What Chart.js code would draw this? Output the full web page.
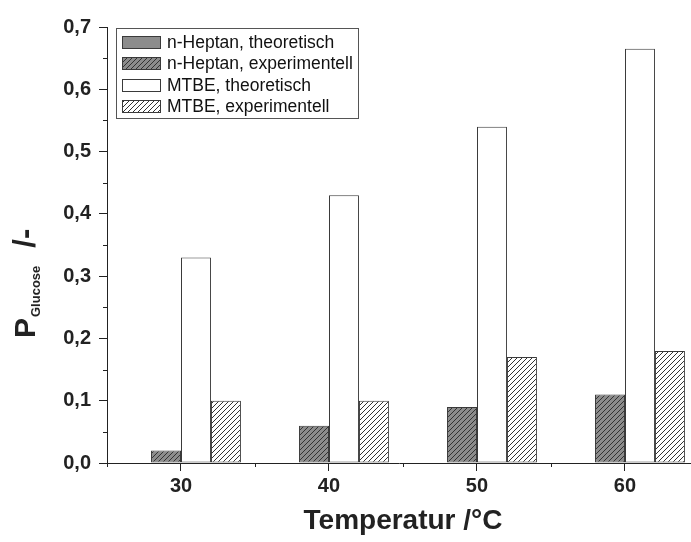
<!DOCTYPE html>
<html>
<head>
<meta charset="utf-8">
<script src="https://cdn.jsdelivr.net/npm/chart.js@4.4.1/dist/chart.umd.min.js"></script>
<style>
  html, body { margin: 0; padding: 0; background: #fff; }
  canvas { display: block; }
</style>
</head>
<body>
<canvas id="chart" width="691" height="542"></canvas>
<script>
// Distribution coefficient of glucose vs. temperature
const temperatures = [30, 40, 50, 60];
const heptanTheo = [0, 0, 0, 0];
const heptanExp = [0.02, 0.06, 0.09, 0.11];
const mtbeTheo = [0.33, 0.43, 0.54, 0.665];
const mtbeExp = [0.10, 0.10, 0.17, 0.18];
const seriesLabels = ['n-Heptan, theoretisch', 'n-Heptan, experimentell', 'MTBE, theoretisch', 'MTBE, experimentell'];
const yTickValues = [0, 0.1, 0.2, 0.3, 0.4, 0.5, 0.6, 0.7];
const xMinorTicks = [25, 35, 45, 55];
const yMinorTicks = [0.05, 0.15, 0.25, 0.35, 0.45, 0.55, 0.65];
const xTitle = 'Temperatur /°C';
const yTitleMain = 'P';
const yTitleSub = 'Glucose';
const yTitleUnit = '/-';

const FONT = '"Liberation Sans", Arial, Helvetica, sans-serif';
const INK = '#222';
const EDGE = '#3a3a3a';

const canvas = document.getElementById('chart');
const ctx0 = canvas.getContext('2d');

// diagonal "/" hatch fill
function hatch(bg) {
  const s = 5;
  const c = document.createElement('canvas');
  c.width = s; c.height = s;
  const g = c.getContext('2d');
  g.fillStyle = bg;
  g.fillRect(0, 0, s, s);
  g.strokeStyle = '#333';
  g.lineWidth = 1;
  g.beginPath();
  g.moveTo(0, s); g.lineTo(s, 0);
  g.moveTo(-1, 1); g.lineTo(1, -1);
  g.moveTo(s - 1, s + 1); g.lineTo(s + 1, s - 1);
  g.stroke();
  return ctx0.createPattern(c, 'repeat');
}

const fills = ['#8c8c8c', hatch('#8c8c8c'), '#ffffff', hatch('#ffffff')];
const values = [heptanTheo, heptanExp, mtbeTheo, mtbeExp];

const datasets = values.map((vals, k) => ({
  label: seriesLabels[k],
  data: temperatures.map((t, i) => ({ x: t, y: vals[i] })),
  backgroundColor: fills[k],
  borderColor: EDGE,
  borderWidth: 1,
  borderSkipped: false,
  categoryPercentage: 0.81,
  barPercentage: 1.0
}));

const fmt = v => v.toFixed(1).replace('.', ',');

// minor ticks, axis titles and the framed legend
const decor = {
  id: 'decor',
  afterDraw(chart) {
    const ctx = chart.ctx;
    const xs = chart.scales.x, ys = chart.scales.y, a = chart.chartArea;
    ctx.save();
    ctx.strokeStyle = INK;
    ctx.lineWidth = 1;
    ctx.beginPath();
    xMinorTicks.forEach(v => {
      const px = Math.round(xs.getPixelForValue(v)) + 0.5;
      ctx.moveTo(px, a.bottom); ctx.lineTo(px, a.bottom + 4);
    });
    yMinorTicks.forEach(v => {
      const py = Math.round(ys.getPixelForValue(v)) + 0.5;
      ctx.moveTo(a.left - 4, py); ctx.lineTo(a.left, py);
    });
    ctx.stroke();

    // x axis title
    ctx.fillStyle = INK;
    ctx.font = 'bold 28px ' + FONT;
    ctx.textAlign = 'center';
    ctx.textBaseline = 'middle';
    ctx.fillText(xTitle, 403, 521);

    // y axis title with subscript
    ctx.save();
    ctx.translate(35, 338);
    ctx.rotate(-Math.PI / 2);
    ctx.textAlign = 'left';
    ctx.textBaseline = 'alphabetic';
    ctx.font = 'bold 30px ' + FONT;
    ctx.fillText(yTitleMain, 0, 0);
    let w = ctx.measureText(yTitleMain).width + 1;
    ctx.font = 'bold 13px ' + FONT;
    ctx.fillText(yTitleSub, w, 5);
    w += ctx.measureText(yTitleSub).width + 18;
    ctx.font = 'bold 31px ' + FONT;
    ctx.fillText(yTitleUnit, w, 0);
    ctx.restore();

    // legend
    const bx = 116.5, by = 28.5, bw = 242, bh = 90;
    ctx.strokeStyle = '#555';
    ctx.lineWidth = 1;
    ctx.strokeRect(bx, by, bw, bh);
    ctx.font = '17.5px ' + FONT;
    ctx.textAlign = 'left';
    ctx.textBaseline = 'middle';
    chart.data.datasets.forEach((ds, i) => {
      const cy = 42 + i * 21.5;
      ctx.fillStyle = ds.backgroundColor;
      ctx.fillRect(122, Math.round(cy - 6.5), 39, 13);
      ctx.strokeStyle = EDGE;
      ctx.strokeRect(122.5, Math.round(cy - 6.5) + 0.5, 38, 12);
      ctx.fillStyle = '#111';
      ctx.fillText(ds.label, 167, cy + 1);
    });
    ctx.restore();
  }
};

new Chart(canvas, {
  type: 'bar',
  data: { datasets },
  options: {
    responsive: false,
    animation: false,
    devicePixelRatio: 1,
    layout: { padding: { top: 27, left: 0, right: 0, bottom: 0 } },
    plugins: { legend: { display: false }, tooltip: { enabled: false } },
    scales: {
      x: {
        type: 'linear',
        offset: false,
        min: 25,
        max: 64.46,
        afterBuildTicks: s => { s.ticks = temperatures.map(v => ({ value: v })); },
        afterFit: s => { s.height = 79; },
        grid: { display: true, offset: false, drawOnChartArea: false, drawTicks: true, tickLength: 8, color: INK, lineWidth: 1 },
        border: { display: true, color: INK, width: 1 },
        ticks: { color: INK, font: { family: FONT, size: 20, weight: 'bold' }, padding: 3, maxRotation: 0, autoSkip: false, callback: v => String(v) }
      },
      y: {
        min: 0,
        max: 0.7,
        afterBuildTicks: s => { s.ticks = yTickValues.map(v => ({ value: v })); },
        afterFit: s => { s.width = 107; },
        grid: { display: true, drawOnChartArea: false, drawTicks: true, tickLength: 8, color: INK, lineWidth: 1 },
        border: { display: true, color: INK, width: 1 },
        ticks: { color: INK, font: { family: FONT, size: 20, weight: 'bold' }, padding: 8, callback: v => fmt(v) }
      }
    }
  },
  plugins: [decor]
});
</script>
</body>
</html>
